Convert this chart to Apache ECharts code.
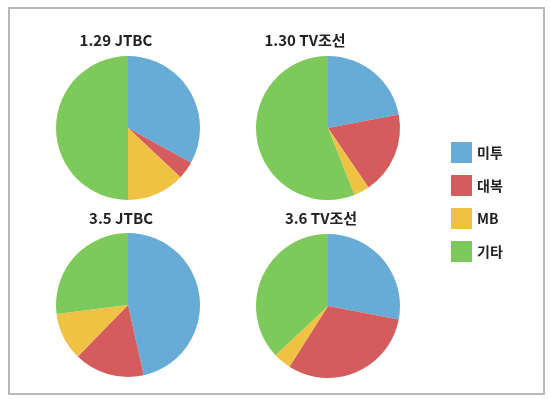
<!DOCTYPE html>
<html><head><meta charset="utf-8">
<script src="https://cdn.jsdelivr.net/npm/echarts@6/dist/echarts.min.js"></script>
<style>
html,body{margin:0;padding:0;background:#fff;}
#frame{position:absolute;left:8px;top:7px;width:533px;height:384px;border:2px solid #b8b8b8;box-sizing:content-box;}
#c{position:absolute;left:0;top:0;width:550px;height:399px;}
</style></head>
<body>
<div id="frame"></div>
<div id="c"></div>
<script>
const categories = ['미투', '대복', 'MB', '기타'];
const chartTitles = ['1.29 JTBC', '1.30 TV조선', '3.5 JTBC', '3.6 TV조선'];
const valuesJTBC129 = [33, 4, 13, 50];
const valuesTV130 = [22, 18.5, 3.5, 56];
const valuesJTBC35 = [46.5, 15.8, 10.7, 27];
const valuesTV36 = [28, 31, 4, 37];
const colors = ['#66acd6', '#d45c5c', '#f0c244', '#7ec95c'];

const allValues = [valuesJTBC129, valuesTV130, valuesJTBC35, valuesTV36];
const centers = [[128, 128], [328, 128], [128, 305], [328, 306]];
const titlePos = [[116, 33], [305, 33], [121, 211], [321, 211]];

const chart = echarts.init(document.getElementById('c'), null, {renderer: 'canvas'});
const fontFam = '"Noto Sans CJK KR", "Noto Sans", sans-serif';
chart.setOption({
  animation: false,
  color: colors,
  title: chartTitles.map((t, i) => ({
    text: t,
    left: titlePos[i][0],
    top: titlePos[i][1],
    textAlign: 'center',
    padding: 0,
    textStyle: {fontSize: 15, fontWeight: 'bold', color: '#222', fontFamily: fontFam}
  })),
  legend: {
    orient: 'vertical',
    left: 451,
    top: 142,
    padding: 0,
    itemWidth: 21,
    itemHeight: 21,
    itemGap: 12,
    icon: 'rect',
    data: categories,
    textStyle: {fontSize: 14, fontWeight: 'bold', color: '#222', fontFamily: fontFam}
  },
  series: allValues.map((vals, i) => ({
    type: 'pie',
    center: centers[i],
    radius: 72,
    startAngle: 90,
    clockwise: true,
    label: {show: false},
    labelLine: {show: false},
    itemStyle: {borderWidth: 0},
    emphasis: {disabled: true},
    data: categories.map((c, j) => ({name: c, value: vals[j]}))
  }))
});
</script>
</body></html>
